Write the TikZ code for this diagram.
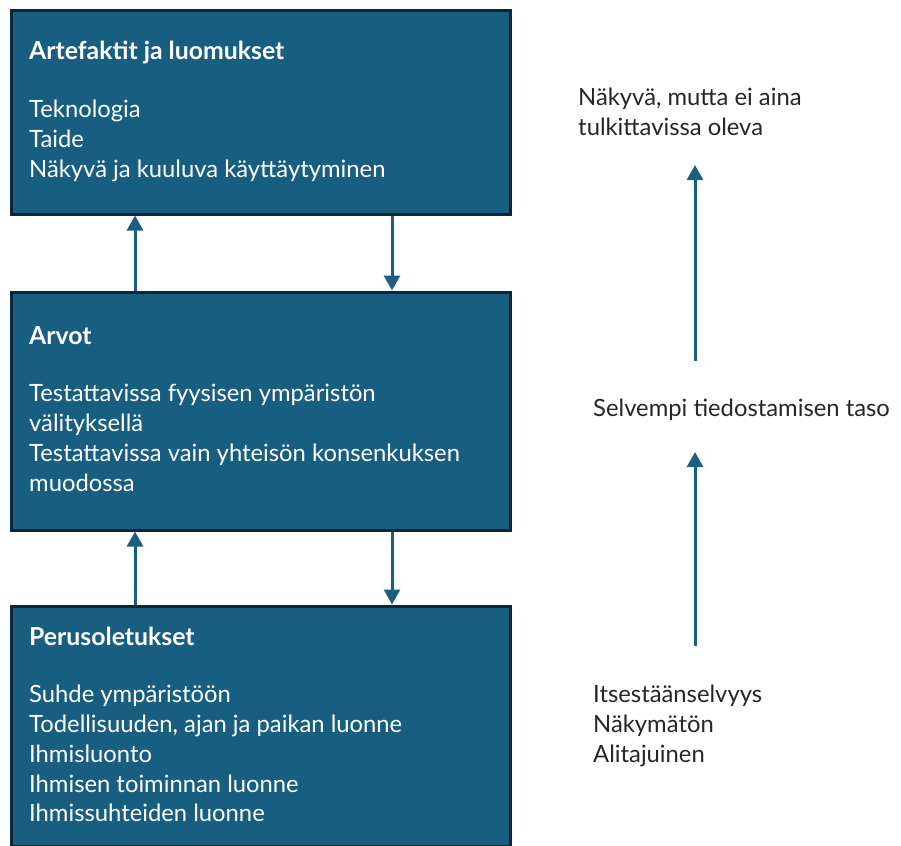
\documentclass[tikz,border=0pt]{standalone}
\usepackage{fontspec}
\setmainfont{Lato}
\usetikzlibrary{arrows.meta}
\definecolor{boxfill}{HTML}{175E80}
\definecolor{boxline}{HTML}{0B2836}
\definecolor{arrcol}{HTML}{1A5F80}
\definecolor{txt}{HTML}{262626}
\tikzset{
  box/.style={draw=boxline, line width=3pt, fill=boxfill, anchor=north west, minimum width=499pt, inner sep=0pt},
  wt/.style={anchor=base west, text=white, font=\fontsize{23.8}{28}\selectfont, inner sep=0pt},
  wtb/.style={wt, font=\fontsize{24.8}{28}\selectfont\bfseries},
  rt/.style={anchor=base west, text=txt, font=\fontsize{23.8}{28}\selectfont, inner sep=0pt},
  arr/.style={draw=arrcol, line width=3pt, -{Triangle[width=16pt,length=15pt]}},
}
\begin{document}
\begin{tikzpicture}[x=1pt,y=-1pt]
\useasboundingbox (0,0) rectangle (901,845);
% boxes
\node[box, minimum height=203pt] (b1) at (9.5,9.5) {};
\node[box, minimum height=238pt] (b2) at (9.5,290.5) {};
\node[box, minimum height=240pt] (b3) at (9.5,604.5) {};
% box 1 text
\node[wtb] (t1) at (29,60) {Artefaktit ja luomukset};
\node[wt] (t1a) at (29,118) {Teknologia};
\node[wt] (t1b) at (29,148) {Taide};
\node[wt] (t1c) at (29,178) {Näkyvä ja kuuluva käyttäytyminen};
% box 2 text
\node[wtb] (t2) at (29,344) {Arvot};
\node[wt] (t2a) at (29,401) {Testattavissa fyysisen ympäristön};
\node[wt] (t2b) at (29,431) {välityksellä};
\node[wt] (t2c) at (29,461) {Testattavissa vain yhteisön konsenkuksen};
\node[wt] (t2d) at (29,491) {muodossa};
% box 3 text
\node[wtb] (t3) at (29,645) {Perusoletukset};
\node[wt] (t3a) at (29,702) {Suhde ympäristöön};
\node[wt] (t3b) at (29,732) {Todellisuuden, ajan ja paikan luonne};
\node[wt] (t3c) at (29,762) {Ihmisluonto};
\node[wt] (t3d) at (29,792) {Ihmisen toiminnan luonne};
\node[wt] (t3e) at (29,821) {Ihmissuhteiden luonne};
% arrows between boxes
\draw[arr] ([xshift=125.5pt]b2.north west) -- ([xshift=125.5pt]b1.south west);
\draw[arr] ([xshift=382.5pt]b1.south west) -- ([xshift=382.5pt]b2.north west);
\draw[arr] ([xshift=125.5pt]b3.north west) -- ([xshift=125.5pt]b2.south west);
\draw[arr] ([xshift=382.5pt]b2.south west) -- ([xshift=382.5pt]b3.north west);
% right side
\node[rt] (r1) at (578,106) {Näkyvä, mutta ei aina};
\node[rt] (r2) at (578,136) {tulkittavissa oleva};
\node[rt] (r3) at (593,416) {Selvempi tiedostamisen taso};
\node[rt] (r4) at (593,702) {Itsestäänselvyys};
\node[rt] (r5) at (593,732) {Näkymätön};
\node[rt] (r6) at (593,762) {Alitajuinen};
\coordinate (a1s) at (695,361);
\coordinate (a1e) at (695,165);
\coordinate (a2s) at (695,646);
\coordinate (a2e) at (695,452);
\draw[arr] (a1s) -- (a1e);
\draw[arr] (a2s) -- (a2e);
\end{tikzpicture}
\end{document}
